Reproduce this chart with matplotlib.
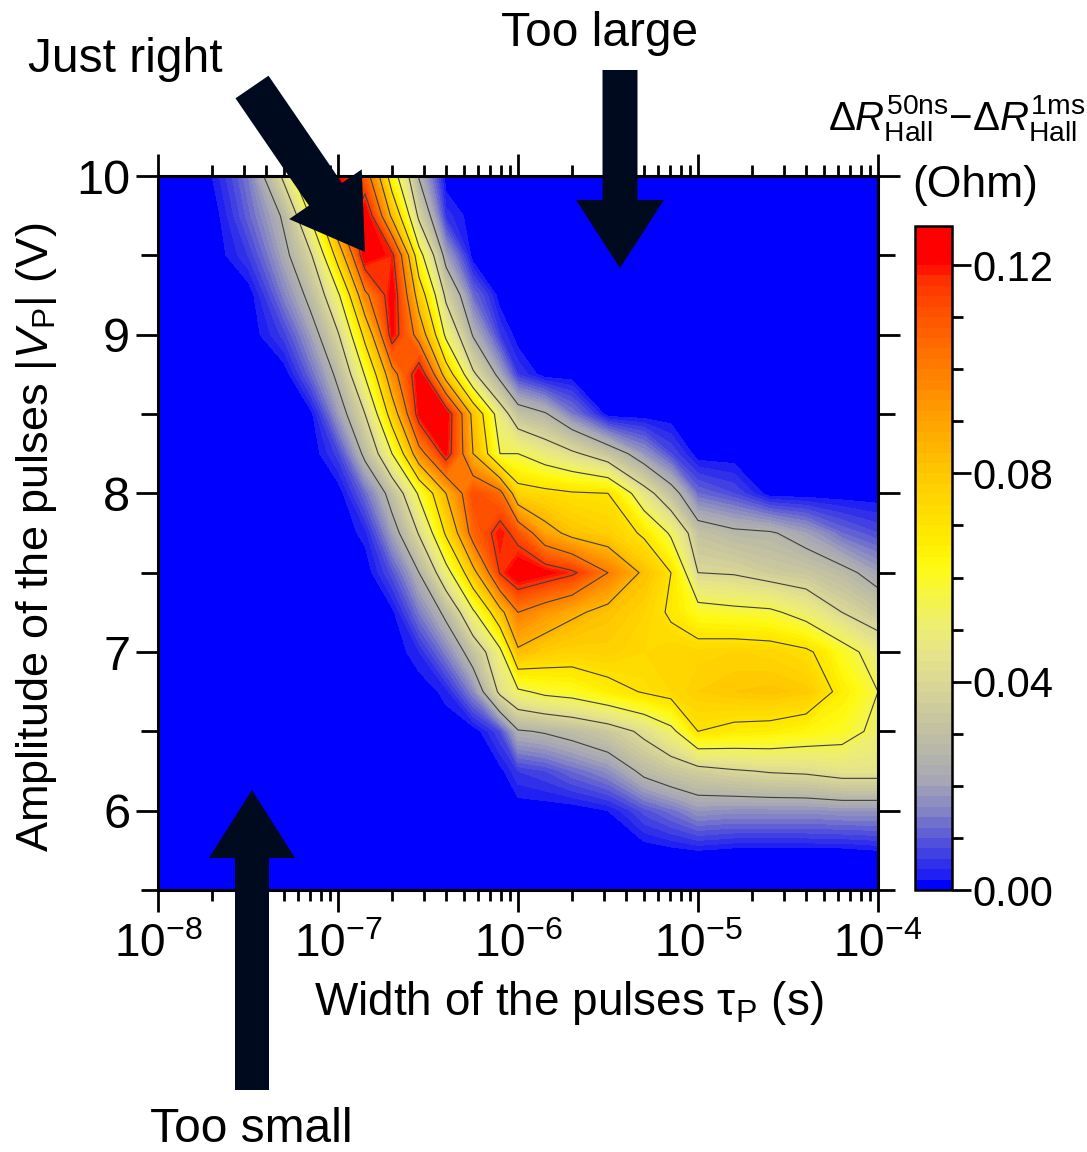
import numpy as np
import matplotlib
matplotlib.use("Agg")
import matplotlib.pyplot as plt
from matplotlib.colors import ListedColormap, BoundaryNorm, to_rgb
from matplotlib.patches import Polygon
from matplotlib.ticker import FixedLocator, NullFormatter

plt.rcParams["font.family"] = ["Liberation Sans", "DejaVu Sans"]
plt.rcParams["mathtext.fontset"] = "custom"
plt.rcParams["mathtext.rm"] = "Liberation Sans"
plt.rcParams["mathtext.it"] = "Liberation Sans:italic"
plt.rcParams["mathtext.bf"] = "Liberation Sans:bold"
plt.rcParams["mathtext.sf"] = "Liberation Sans"

# ---- measurement grid -------------------------------------------------------
# pulse width, as log10(tau / s)
log_tau = [-8.0, -7.7, -7.5, -7.3, -7.15, -7.0, -6.85, -6.7, -6.55, -6.4, -6.25, -6.1,
           -6.0, -5.85, -5.7, -5.5, -5.3, -5.15, -5.0, -4.8, -4.6, -4.4, -4.2, -4.0]
# pulse amplitude |V_P| (V)
amplitude = [5.5, 5.75, 6.0, 6.25, 6.5, 6.75, 7.0, 7.25, 7.5, 7.75,
             8.0, 8.25, 8.5, 8.75, 9.0, 9.25, 9.5, 9.75, 10.0]

# Delta R_Hall(50ns) - Delta R_Hall(1ms) in Ohm, one row per amplitude
dr_5_50 = [0] * 24
dr_5_75 = [0, 0, 0, 0, 0, 0, 0, 0, 0, 0, 0, 0, 0, 0, 0, 0, 0, 0.001, .002, .001, .001, .001, .001, .002]
dr_6_00 = [0, 0, 0, 0, 0, 0, 0, 0, 0, 0, 0, 0, 0, 0, 0, .002, .009, .013, .018, .017, .017, .017, .018, .018]
dr_6_25 = [0, 0, 0, 0, 0, 0, 0, 0, 0, 0, 0, .001, .006, .008, .012, .017, .028, .033, .036, .039, .041, .042, .045, .045]
dr_6_50 = [0, 0, 0, 0, 0, 0, 0, 0, 0, 0, 0, .008, .024, .026, .029, .034, .043, .052, .070, .067, .066, .063, .060, .051]
dr_6_75 = [0, 0, 0, 0, 0, 0, 0, 0, 0, .003, .016, .043, .053, .058, .060, .066, .071, .074, .078, .080, .081, .079, .066, .055]
dr_7_00 = [0, 0, 0, 0, 0, 0, 0, 0, .004, .015, .031, .052, .083, .078, .076, .077, .074, .076, .075, .076, .075, .072, .060, .048]
dr_7_25 = [0, 0, 0, 0, 0, 0, 0, .001, .014, .028, .053, .081, .100, .093, .087, .081, .076, .068, .060, .058, .057, .050, .040, .033]
dr_7_50 = [0, 0, 0, 0, 0, 0, 0, .009, .025, .050, .081, .116, .126, .122, .117, .100, .082, .070, .040, .039, .035, .033, .028, .020]
dr_7_75 = [0, 0, 0, 0, 0, 0, .003, .020, .041, .072, .106, .120, .110, .090, .081, .077, .068, .053, .031, .027, .026, .020, .012, .008]
dr_8_00 = [0, 0, 0, 0, 0, 0, .012, .030, .057, .085, .112, .104, .075, .073, .071, .070, .045, .030, .012, .008, 0, 0, 0, 0]
dr_8_25 = [0, 0, 0, 0, 0, .007, .028, .055, .095, .121, .085, .055, .055, .048, .042, .032, .018, .008, 0, 0, 0, 0, 0, 0]
dr_8_50 = [0, 0, 0, 0, .001, .019, .040, .077, .121, .123, .081, .047, .031, .026, .014, 0, 0, 0, 0, 0, 0, 0, 0, 0]
dr_8_75 = [0, 0, 0, 0, .012, .028, .056, .095, .124, .078, .042, .021, .006, 0, 0, 0, 0, 0, 0, 0, 0, 0, 0, 0]
dr_9_00 = [0, 0, 0, .007, .020, .039, .074, .121, .094, .052, .024, .006, 0, 0, 0, 0, 0, 0, 0, 0, 0, 0, 0, 0]
dr_9_25 = [0, 0, 0, .015, .029, .053, .097, .123, .078, .037, .012, 0, 0, 0, 0, 0, 0, 0, 0, 0, 0, 0, 0, 0]
dr_9_50 = [0, 0, .006, .022, .039, .076, .125, .118, .060, .020, 0, 0, 0, 0, 0, 0, 0, 0, 0, 0, 0, 0, 0, 0]
dr_9_75 = [0, 0, .011, .027, .057, .100, .125, .082, .037, .005, 0, 0, 0, 0, 0, 0, 0, 0, 0, 0, 0, 0, 0, 0]
dr_10_0 = [0, .002, .014, .043, .080, .125, .107, .062, .024, 0, 0, 0, 0, 0, 0, 0, 0, 0, 0, 0, 0, 0, 0, 0]

delta_r = np.array([dr_5_50, dr_5_75, dr_6_00, dr_6_25, dr_6_50, dr_6_75, dr_7_00, dr_7_25,
                    dr_7_50, dr_7_75, dr_8_00, dr_8_25, dr_8_50, dr_8_75, dr_9_00, dr_9_25,
                    dr_9_50, dr_9_75, dr_10_0])

x_ticks = [1e-8, 1e-7, 1e-6, 1e-5, 1e-4]
x_tick_labels = ["$10^{-8}$", "$10^{-7}$", "$10^{-6}$", "$10^{-5}$", "$10^{-4}$"]
y_ticks = [6, 7, 8, 9, 10]
cbar_ticks = [0.0, 0.04, 0.08, 0.12]
cbar_tick_labels = ["0.00", "0.04", "0.08", "0.12"]

# ---- colour scale: blue -> grey -> yellow -> orange -> red -------------------
fill_levels = list(np.round(np.arange(0, 0.12001, 0.002), 4)) + [0.1275]
line_levels = [0.025, 0.04, 0.055, 0.07, 0.085, 0.10, 0.115]
anchors = [(0.001, "#0000ff"), (0.003, "#2020f2"), (0.009, "#5050dc"), (0.015, "#8282c6"),
           (0.021, "#a6a6b6"), (0.027, "#b8b8a8"), (0.033, "#c8c69e"), (0.039, "#d8d596"),
           (0.045, "#e6e48a"), (0.051, "#eeee70"), (0.057, "#f6f640"), (0.062, "#fffa10"),
           (0.067, "#ffec00"), (0.073, "#ffdc00"), (0.080, "#ffc800"), (0.088, "#ffaa00"),
           (0.096, "#ff8c00"), (0.104, "#ff6e00"), (0.111, "#ff5000"), (0.117, "#ff3000"),
           (0.1205, "#ff0000")]
a_val = np.array([a[0] for a in anchors])
a_rgb = np.array([to_rgb(a[1]) for a in anchors])
mids = [(fill_levels[i] + fill_levels[i + 1]) / 2 for i in range(len(fill_levels) - 1)]
band_colors = [tuple(np.interp(m, a_val, a_rgb[:, k]) for k in range(3)) for m in mids]
cmap = ListedColormap(band_colors)
norm = BoundaryNorm(fill_levels, cmap.N)

# ---- figure ------------------------------------------------------------------
W, H = 1087, 1152
fig = plt.figure(figsize=(W / 100, H / 100), dpi=100)


def px_rect(left, top, right, bottom):
    return [left / W, 1 - bottom / H, (right - left) / W, (bottom - top) / H]


ax = fig.add_axes(px_rect(158, 176, 878, 890))
cax = fig.add_axes(px_rect(915, 226, 952, 890))

tau = 10.0 ** np.array(log_tau)
TT, VV = np.meshgrid(tau, amplitude)
cf = ax.contourf(TT, VV, delta_r, levels=fill_levels, cmap=cmap, norm=norm)
ax.contour(TT, VV, delta_r, levels=line_levels, colors="#404040", linewidths=0.8)

ax.set_xscale("log")
ax.set_xlim(1e-8, 1e-4)
ax.set_ylim(5.5, 10)
ax.set_xticks(x_ticks, x_tick_labels)
ax.xaxis.set_minor_locator(FixedLocator([k * 10.0 ** e for e in range(-8, -4) for k in range(2, 10)]))
ax.xaxis.set_minor_formatter(NullFormatter())
ax.set_yticks(y_ticks)
ax.yaxis.set_minor_locator(FixedLocator([5.5, 6.5, 7.5, 8.5, 9.5]))
ax.tick_params(which="both", direction="out", top=True, right=True, width=2.0)
ax.tick_params(axis="x", which="major", length=16, pad=8, labelsize=33)
ax.tick_params(axis="x", which="minor", length=8)
ax.tick_params(axis="y", which="major", length=16, pad=4, labelsize=35)
ax.tick_params(axis="y", which="minor", length=12)
for s in ax.spines.values():
    s.set_linewidth(2.2)

cb = fig.colorbar(cf, cax=cax, spacing="proportional", ticks=cbar_ticks)
cb.ax.set_yticklabels(cbar_tick_labels)
cb.ax.yaxis.set_minor_locator(FixedLocator([0.01, 0.02, 0.03, 0.05, 0.06, 0.07, 0.09, 0.10, 0.11]))
cb.ax.tick_params(which="both", direction="out", width=2.0, labelsize=30, right=True)
cb.ax.tick_params(which="major", length=14, pad=1)
cb.ax.tick_params(which="minor", length=8)
cb.outline.set_linewidth(1.8)

# axis titles
fig.text(569 / W, 1 - 1003 / H, "Width of the pulses τ$_\\mathrm{P}$ (s)",
         ha="center", va="center", fontsize=33)
fig.text(37 / W, 1 - 537 / H, "Amplitude of the pulses |$V_\\mathrm{P}$| (V)",
         ha="center", va="center", rotation=90, fontsize=32.5)
fig.text(957 / W, 1 - 118 / H,
         "$\\Delta R^{\\mathrm{50ns}}_{\\mathrm{Hall}}{-}\\Delta R^{\\mathrm{1ms}}_{\\mathrm{Hall}}$",
         ha="center", va="center", fontsize=29)
fig.text(975 / W, 1 - 185 / H, "(Ohm)", ha="center", va="center", fontsize=32)

# annotation arrows (pixel geometry)
def arrow_polygon(tail, tip, shaft_w, head_w, head_len):
    t = np.array(tail, float)
    p = np.array(tip, float)
    d = p - t
    u = d / np.hypot(*d)
    n = np.array([-u[1], u[0]])
    b = p - u * head_len
    pts = [t + n * shaft_w / 2, b + n * shaft_w / 2, b + n * head_w / 2, p,
           b - n * head_w / 2, b - n * shaft_w / 2, t - n * shaft_w / 2]
    return [(x / W, 1 - y / H) for x, y in pts]


arrow_color = "#000a1e"
for tail, tip, sw, hw, hl in [((252, 87), (365, 252), 40, 88, 70),
                              ((620, 70), (620, 268), 35, 88, 68),
                              ((252, 1090), (252, 790), 34, 86, 68)]:
    fig.add_artist(Polygon(arrow_polygon(tail, tip, sw, hw, hl), closed=True,
                           transform=fig.transFigure, facecolor=arrow_color,
                           edgecolor="none", zorder=10))

fig.text(125 / W, 1 - 60 / H, "Just right", ha="center", va="center", fontsize=34.5)
fig.text(600 / W, 1 - 33 / H, "Too large", ha="center", va="center", fontsize=34.5)
fig.text(251 / W, 1 - 1130 / H, "Too small", ha="center", va="center", fontsize=34.5)

fig.savefig("out.png", dpi=100)
